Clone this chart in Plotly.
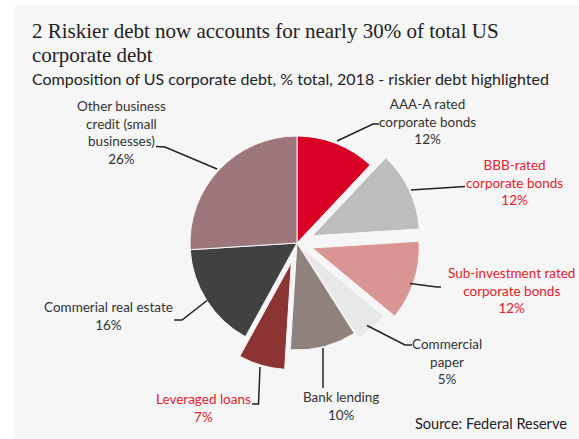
import plotly.graph_objects as go

W, H = 579, 439

categories = ["AAA-A rated corporate bonds", "BBB-rated corporate bonds",
              "Sub-investment rated corporate bonds", "Commercial paper",
              "Bank lending", "Leveraged loans", "Commerial real estate",
              "Other business credit (small businesses)"]
shares = [12, 12, 12, 5, 10, 7, 16, 26]
risky = [False, True, True, False, False, True, False, False]
colors = ["#da0025", "#bdbdbd", "#d99593", "#e8e8e8",
          "#8f827d", "#8c3334", "#414141", "#9d777b"]
pulls = [0, 0.16, 0.15, 0.06, 0, 0.19, 0, 0]

label_text = ["AAA-A rated<br>corporate bonds", "BBB-rated<br>corporate bonds",
              "Sub-investment rated<br>corporate bonds", "Commercial<br>paper",
              "Bank lending", "Leveraged loans", "Commerial real estate",
              "Other business<br>credit (small<br>businesses)"]
# label centres (px) and leader paths (px)
label_pos = [(427, 121), (514, 182), (511, 290), (447, 361),
             (341, 405.5), (203, 408), (108.5, 315.5), (121, 132.5)]
leaders = [
    [(337, 141), (373, 124), (379, 124)],
    [(411, 190), (465, 186.5)],
    [(410, 283.5), (437, 287), (441, 287)],
    [(367, 325.5), (405, 345), (412, 345)],
    [(323, 348), (323, 388)],
    [(260, 367), (258.5, 404), (252, 404)],
    [(207, 300.5), (182, 320), (174, 320)],
    [(217, 169), (165, 147), (156, 146.5)],
]

def px(x):
    return x / W

def py(y):
    return 1 - y / H

fig = go.Figure()

# pie: centre (297,243), radius ~107
r = 107
maxp = max(pulls)
half = r * (1 + maxp)
cx, cy = 297, 243
fig.add_trace(go.Pie(
    labels=categories, values=shares, sort=False, direction="clockwise",
    rotation=0, pull=pulls, textinfo="none", hoverinfo="label+percent",
    marker=dict(colors=colors, line=dict(color="#f6f6f6", width=1)),
    domain=dict(x=[px(cx - half), px(cx + half)], y=[py(cy + half), py(cy - half)]),
    showlegend=False,
))

shapes = [dict(type="rect", xref="paper", yref="paper", x0=px(14), x1=1, y0=0, y1=py(6),
               fillcolor="#f6f6f6", line=dict(width=0), layer="below")]
for pts in leaders:
    path = "M " + " L ".join(f"{px(x)},{py(y)}" for x, y in pts)
    shapes.append(dict(type="path", xref="paper", yref="paper", path=path,
                       line=dict(color="#222222", width=1.5)))

annotations = []
for txt, v, rk, (x, y) in zip(label_text, shares, risky, label_pos):
    annotations.append(dict(
        text=f"{txt}<br>{v}%", x=px(x), y=py(y), xref="paper", yref="paper",
        xanchor="center", yanchor="middle", showarrow=False, align="center",
        font=dict(family="Lato", size=13.5, color="#e4202e" if rk else "#333333")))

annotations += [
    dict(text="2 Riskier debt now accounts for nearly 30% of total US", x=px(30), y=py(31),
         xref="paper", yref="paper", xanchor="left", yanchor="middle", showarrow=False,
         font=dict(family="Liberation Serif", size=21, color="#222222")),
    dict(text="corporate debt", x=px(30), y=py(55),
         xref="paper", yref="paper", xanchor="left", yanchor="middle", showarrow=False,
         font=dict(family="Liberation Serif", size=21, color="#222222")),
    dict(text="Composition of US corporate debt, % total, 2018 - riskier debt highlighted",
         x=px(30), y=py(78), xref="paper", yref="paper", xanchor="left", yanchor="middle",
         showarrow=False, font=dict(family="Lato", size=16, color="#222222")),
    dict(text="Source: Federal Reserve", x=px(569), y=py(423), xref="paper", yref="paper",
         xanchor="right", yanchor="middle", showarrow=False,
         font=dict(family="Lato", size=14.5, color="#222222")),
]

fig.update_layout(width=W, height=H, margin=dict(l=0, r=0, t=0, b=0),
                  paper_bgcolor="white", plot_bgcolor="white",
                  shapes=shapes, annotations=annotations)

fig.write_html("out.html", config={"displayModeBar": False},
               post_script="document.body.style.margin='0';document.body.style.overflow='hidden';")
